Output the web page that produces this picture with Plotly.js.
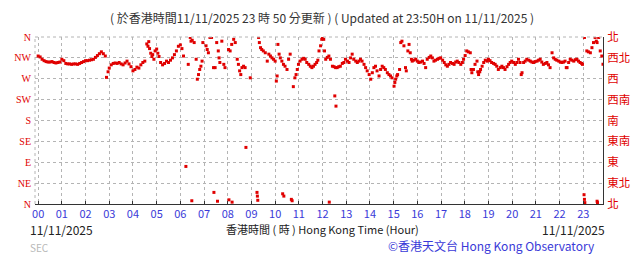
<!DOCTYPE html>
<html>
<head>
<meta charset="utf-8">
<script src="https://cdn.plot.ly/plotly-3.0.1.min.js"></script>
<style>html,body{margin:0;padding:0;background:#fff;}#chart{width:643px;height:254px;}</style>
</head>
<body>
<div id="chart"></div>
<script>
// Hong Kong time (HH:MM) of each reading and wind direction in degrees
const times = [
"00:00","00:05","00:10","00:15","00:20","00:25","00:30","00:35","00:40","00:45","00:50","00:55",
"01:00","01:05","01:10","01:15","01:20","01:25","01:30","01:35","01:40","01:45","01:50","01:55",
"02:00","02:05","02:10","02:15","02:20","02:25","02:30","02:35","02:40","02:45","02:50","02:53","02:57",
"03:00","03:05","03:10","03:15","03:20","03:25","03:30","03:35","03:40","03:45","03:50","03:55",
"04:00","04:05","04:10","04:15","04:20","04:25","04:30","04:35","04:38","04:40","04:42","04:45","04:48","04:50","04:53","04:56",
"05:00","05:03","05:06","05:10","05:15","05:20","05:25","05:30","05:35","05:40","05:45","05:50","05:55",
"06:00","06:04","06:08","06:14","06:20","06:25","06:27","06:29","06:30","06:35","06:40","06:43","06:46","06:49","06:52","06:55","06:57",
"07:05","07:08","07:11","07:15","07:19","07:24","07:25","07:28","07:32","07:34","07:36","07:38","07:40","07:45","07:50","07:53",
"08:02","08:03","08:06","08:10","08:11","08:15","08:19","08:24","08:27","08:30","08:33","08:36","08:40","08:44","08:46","08:57",
"09:14","09:15","09:16","09:18","09:20","09:23","09:26","09:30","09:35","09:40","09:44","09:48","09:52","09:56",
"10:00","10:03","10:05","10:07","10:10","10:13","10:17","10:19","10:21","10:22","10:25","10:30","10:34","10:38","10:41","10:43","10:46","10:50","10:53","10:56","10:59",
"11:03","11:08","11:12","11:16","11:20","11:25","11:29","11:33","11:37","11:41","11:45","11:48","11:51","11:55","11:58",
"12:00","12:03","12:05","12:08","12:12","12:16","12:17","12:20","12:25","12:29","12:31","12:33","12:34","12:37","12:41","12:45","12:50","12:54","12:58",
"13:03","13:07","13:11","13:15","13:19","13:24","13:28","13:32","13:36","13:40","13:45","13:49","13:53","13:58",
"14:02","14:06","14:10","14:14","14:18","14:23","14:27","14:31","14:35","14:39","14:44","14:48","14:52","14:56",
"15:01","15:03","15:05","15:08","15:10","15:15","15:18","15:21","15:26","15:30","15:32","15:36","15:39","15:42","15:45","15:47","15:51","15:56",
"16:00","16:04","16:08","16:13","16:17","16:21","16:25","16:30","16:34","16:38","16:42","16:46","16:51","16:55","16:59",
"17:04","17:08","17:12","17:16","17:20","17:24","17:29","17:33","17:37","17:41","17:45","17:50","17:54","17:57",
"18:01","18:05","18:09","18:14","18:16","18:18","18:22","18:26","18:31","18:33","18:35","18:38","18:40","18:44","18:48","18:52","18:57",
"19:00","19:04","19:08","19:13","19:17","19:21","19:25","19:30","19:34","19:38","19:42","19:47","19:51","19:55","19:59",
"20:04","20:08","20:12","20:16","20:20","20:23","20:25","20:29","20:33","20:37","20:42","20:46","20:50","20:54","20:58",
"21:03","21:07","21:11","21:15","21:19","21:24","21:28","21:32","21:36","21:41","21:45","21:49","21:53","21:58",
"22:02","22:06","22:10","22:14","22:17","22:19","22:23","22:27","22:31","22:36","22:40","22:44","22:48","22:52","22:56","22:58",
"23:02","23:03","23:03","23:04","23:09","23:13","23:18","23:22","23:26","23:30","23:33","23:35","23:35","23:36","23:39","23:43","23:47","23:50"
];
const directions = [
319,317,312,309,307,306,306,307,305,304,305,306,
312,309,303,302,302,301,302,302,301,303,305,307,
309,309,310,311,312,316,320,324,328,324,319,273,285,
293,300,303,304,303,305,302,300,304,308,302,296,
287,290,295,293,300,305,308,345,340,350,335,325,318,322,312,330,
334,325,318,305,300,303,308,305,310,315,322,330,340,
343,335,319,81,301,359,351,7,353,348,312,269,279,290,297,308,348,
341,333,326,359,359,294,25,294,348,6,330,315,305,351,301,294,
333,9,330,344,4,355,348,312,301,287,279,294,297,294,122,272,
25,17,8,359,348,337,333,330,326,308,323,319,315,312,
308,265,276,344,323,315,308,22,301,17,297,290,312,323,10,7,253,272,279,290,301,
308,312,314,312,305,301,297,294,297,301,305,310,330,341,355,
359,355,330,312,316,319,4,312,297,296,233,294,211,294,296,297,303,305,312,
308,305,315,323,312,308,305,308,312,308,301,294,287,279,
269,283,294,297,287,276,290,297,294,290,283,279,276,272,
254,262,269,276,279,290,348,351,341,294,287,330,344,326,312,308,310,312,
308,305,306,308,303,294,312,316,319,315,308,310,312,314,315,
310,305,300,297,301,305,303,301,306,308,305,301,305,312,
320,330,328,326,290,283,290,301,308,285,279,285,290,297,305,310,308,
312,309,305,303,301,297,290,294,297,294,290,296,301,305,308,
305,301,305,312,305,279,283,305,308,312,310,308,306,305,307,
308,310,312,306,301,303,305,300,294,326,315,312,310,308,
306,305,306,308,294,294,305,312,310,308,311,312,308,305,303,301,
20,10,359,3,330,328,326,337,348,359,351,348,6,3,359,330,319,301
];
const hourLabels = ["00","01","02","03","04","05","06","07","08","09","10","11","12","13","14","15","16","17","18","19","20","21","22","23"];
const dirDegrees = [0,45,90,135,180,225,270,315,360];
const dirLabelsEn = ["N","NE","E","SE","S","SW","W","NW","N"];
const dirLabelsZh = ["北","東北","東","東南","南","西南","西","西北","北"];

const minutes = times.map(t => { const p = t.split(":"); return (+p[0]) * 60 + (+p[1]); });
const hourTicks = hourLabels.map(h => (+h) * 60);

const RED = "#e00000";
const BLUE = "#3a3ad8";
const GRID = "#b4b4b4";
const CJK = "'Noto Sans CJK TC', 'Noto Sans', sans-serif";

const traces = [
  {
    type: "scatter", mode: "markers",
    x: minutes, y: directions,
    marker: {symbol: "square", size: 3, color: RED, line: {width: 0}},
    hoverinfo: "skip", cliponaxis: true
  },
  {
    type: "scatter", mode: "markers",
    x: [minutes[0]], y: [directions[0]], yaxis: "y2",
    marker: {size: 0.1, color: "rgba(0,0,0,0)"},
    hoverinfo: "skip"
  }
];

const W = 643, H = 254, L = 35, R = 40, T = 37, B = 50;
const pw = W - L - R, ph = H - T - B;
const px = v => (v - L) / pw;
const py = v => (H - B - v) / ph;

const layout = {
  width: W, height: H,
  margin: {l: L, r: R, t: T, b: B, pad: 0},
  paper_bgcolor: "#ffffff", plot_bgcolor: "#ffffff",
  showlegend: false,
  font: {family: CJK, size: 12, color: "#333"},
  title: {
    text: "( 於香港時間11/11/2025 23 時 50 分更新 ) ( Updated at 23:50H on 11/11/2025 )",
    font: {family: CJK, size: 12, color: "#333"},
    xref: "container", yref: "container", x: 322 / W, y: 1 - 19 / H,
    xanchor: "center", yanchor: "middle"
  },
  xaxis: {
    range: [-8, 1430],
    tickmode: "array", tickvals: hourTicks, ticktext: hourLabels,
    showgrid: true, gridcolor: GRID, griddash: "dot", gridwidth: 1,
    zeroline: false, showline: true, linecolor: "#333", linewidth: 1,
    ticks: "inside", ticklen: 3, tickcolor: "#333",
    ticklabelstandoff: 0,
    tickfont: {family: CJK, size: 11, color: BLUE},
    fixedrange: true
  },
  yaxis: {
    range: [0, 360],
    tickmode: "array", tickvals: dirDegrees, ticktext: dirLabelsEn,
    showgrid: true, gridcolor: GRID, griddash: "dot", gridwidth: 1,
    zeroline: false, showline: false, ticks: "",
    ticklabelstandoff: 3,
    tickfont: {family: "'Liberation Serif', serif", size: 10, color: RED},
    fixedrange: true
  },
  yaxis2: {
    overlaying: "y", side: "right",
    range: [0, 360],
    tickmode: "array", tickvals: dirDegrees, ticktext: dirLabelsZh,
    showgrid: false, zeroline: false,
    showline: true, linecolor: "#333", linewidth: 1,
    ticks: "", ticklabelstandoff: 1,
    tickfont: {family: CJK, size: 11.5, color: RED},
    fixedrange: true
  },
  shapes: [
    {type: "line", xref: "paper", yref: "paper", x0: 0, x1: 0, y0: 0, y1: 1,
     line: {color: GRID, width: 1, dash: "dot"}},
    {type: "line", xref: "paper", yref: "paper", x0: 0, x1: 1, y0: 1, y1: 1,
     line: {color: GRID, width: 1, dash: "dot"}}
  ],
  annotations: [
    {text: "11/11/2025", xref: "paper", yref: "paper", x: px(28), y: py(229),
     xanchor: "left", yanchor: "middle", showarrow: false,
     font: {family: CJK, size: 12, color: "#222"}},
    {text: "香港時間 ( 時 ) Hong Kong Time (Hour)", xref: "paper", yref: "paper", x: px(322), y: py(229),
     xanchor: "center", yanchor: "middle", showarrow: false,
     font: {family: CJK, size: 11, color: "#222"}},
    {text: "11/11/2025", xref: "paper", yref: "paper", x: px(607), y: py(229),
     xanchor: "right", yanchor: "middle", showarrow: false,
     font: {family: CJK, size: 12, color: "#222"}},
    {text: "SEC", xref: "paper", yref: "paper", x: px(28), y: py(247),
     xanchor: "left", yanchor: "middle", showarrow: false,
     font: {family: CJK, size: 10, color: "#b8b8b8"}},
    {text: "©香港天文台 Hong Kong Observatory", xref: "paper", yref: "paper", x: px(597), y: py(245),
     xanchor: "right", yanchor: "middle", showarrow: false,
     font: {family: CJK, size: 12, color: BLUE}}
  ]
};

Plotly.newPlot("chart", traces, layout, {displayModeBar: false, staticPlot: true});
</script>
</body>
</html>
